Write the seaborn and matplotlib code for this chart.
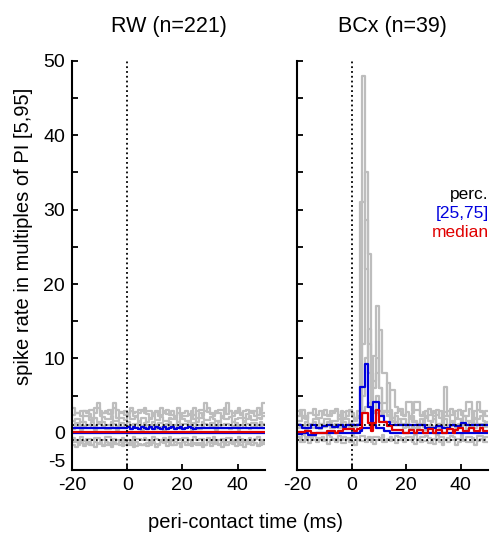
import numpy as np
import pandas as pd
import matplotlib
matplotlib.use('Agg')
import matplotlib.pyplot as plt
import matplotlib.transforms as mtransforms
import seaborn as sns

sns.set_style('ticks')
plt.rcParams['font.family'] = ['Liberation Sans', 'DejaVu Sans']
plt.rcParams['axes.unicode_minus'] = False
for key in ['text.color', 'axes.labelcolor', 'xtick.color', 'ytick.color', 'axes.edgecolor']:
    plt.rcParams[key] = 'black'

# bin edges (1 ms bins, -20 .. 50 ms)
edges = np.arange(-20, 51)

# RW (n=221): single-unit traces (grey)
rw_gray = {
    'u1': [2.4, 2.6, 2.6, 2.9, 2.9, 2.7, 3.1, 3.1, 2.6, 4.0,
           2.9, 2.6, 2.6, 3.1, 2.6, 4.0, 3.1, 2.8, 2.8, 2.4,
           2.6, 3.0, 2.6, 2.8, 3.1, 3.1, 2.6, 2.9, 2.9, 2.4,
           2.8, 2.4, 2.4, 2.9, 3.1, 2.4, 2.4, 2.2, 2.6, 2.4,
           2.2, 2.2, 2.4, 2.9, 2.4, 2.9, 3.1, 3.1, 4.0, 2.8,
           2.6, 2.4, 2.9, 3.1, 3.1, 2.6, 4.0, 2.9, 2.6, 2.9,
           3.1, 2.4, 2.9, 3.1, 2.9, 2.6, 2.9, 2.4, 2.9, 4.0],
    'u2': [1.6, 1.9, 1.9, 1.5, 2.2, 2.2, 1.7, 1.7, 2.0, 1.5,
           1.5, 2.1, 1.8, 1.8, 2.2, 1.6, 1.6, 2.0, 2.0, 1.7,
           2.2, 1.8, 1.8, 2.1, 1.6, 2.0, 2.0, 1.5, 1.9, 2.2,
           1.7, 1.7, 2.1, 1.6, 1.6, 2.0, 1.8, 1.8, 1.5, 2.1,
           1.9, 1.6, 1.6, 2.2, 1.8, 1.5, 2.0, 2.0, 1.7, 1.7,
           2.1, 1.9, 1.6, 1.6, 2.2, 1.8, 1.8, 2.1, 1.5, 1.9,
           2.0, 2.0, 1.6, 1.8, 2.2, 1.7, 1.7, 2.0, 1.9, 2.2],
    'u3': [1.0, 1.3, 1.3, 0.9, 1.4, 1.1, 1.1, 1.5, 0.9, 1.2,
           1.2, 1.4, 1.0, 1.0, 1.5, 1.2, 0.9, 1.3, 1.3, 1.1,
           1.4, 1.0, 1.2, 1.2, 1.5, 0.9, 1.3, 1.1, 1.1, 1.4,
           1.0, 1.3, 1.3, 0.9, 1.2, 1.5, 1.1, 1.1, 1.4, 1.0,
           1.2, 1.2, 1.5, 0.9, 1.3, 1.0, 1.0, 1.4, 1.2, 1.1,
           1.3, 1.3, 0.9, 1.5, 1.1, 1.2, 1.2, 1.0, 1.4, 1.3,
           0.9, 1.1, 1.5, 1.2, 1.0, 1.3, 1.3, 1.1, 1.4, 1.2],
    'u4': [-0.7, -0.9, -0.9, -0.6, -1.1, -0.8, -0.8, -1.0, -0.7, -0.7,
           -1.0, -0.9, -0.6, -0.6, -1.1, -0.8, -1.0, -1.0, -0.7, -0.9,
           -0.9, -1.1, -0.6, -0.8, -0.8, -1.0, -0.7, -0.9, -1.1, -0.6,
           -0.8, -1.0, -1.0, -0.7, -0.9, -0.6, -1.1, -0.8, -0.8, -1.0,
           -0.7, -0.7, -0.9, -1.1, -0.6, -1.0, -0.8, -0.8, -0.9, -0.7,
           -1.1, -0.6, -1.0, -1.0, -0.8, -0.9, -0.7, -0.7, -1.1, -0.9,
           -0.6, -0.8, -1.0, -0.9, -0.7, -1.1, -0.8, -0.6, -1.0, -0.9],
    'u5': [-1.3, -1.3, -1.6, -1.2, -1.5, -1.5, -1.3, -1.7, -1.2, -1.4,
           -1.4, -1.8, -1.3, -1.6, -1.6, -1.2, -1.5, -1.7, -1.7, -1.3,
           -1.4, -1.6, -1.8, -1.8, -1.5, -1.7, -1.7, -1.4, -1.6, -1.3,
           -1.5, -1.5, -1.2, -1.4, -1.3, -1.3, -1.6, -1.2, -1.4, -1.5,
           -1.3, -1.2, -1.5, -1.3, -1.4, -1.7, -1.7, -1.3, -1.6, -1.2,
           -1.4, -1.4, -1.3, -1.5, -1.2, -1.6, -1.3, -1.3, -1.5, -1.2,
           -1.4, -1.6, -1.3, -1.3, -1.5, -1.2, -1.4, -1.6, -1.3, -1.5],
    'u6': [3.3, 2.7, 2.7, 2.2, 3.0, 3.0, 2.5, 2.0, 3.3, 3.3,
           2.2, 2.7, 3.0, 2.5, 2.5, 3.3, 2.0, 2.7, 2.7, 3.0,
           2.5, 3.3, 2.2, 2.2, 2.7, 3.0, 3.3, 2.5, 2.0, 2.7,
           3.0, 2.2, 3.3, 2.7, 2.5, 2.5, 3.0, 2.0, 3.3, 2.2,
           2.7, 3.0, 2.5, 2.5, 3.3, 2.0, 2.7, 2.2, 3.0, 3.3,
           2.5, 2.2, 2.7, 2.7, 2.0, 3.3, 2.5, 3.0, 2.2, 2.7,
           3.3, 2.7, 2.0, 2.5, 3.0, 3.0, 2.2, 3.3, 2.5, 2.7],
    'u7': [0.5, 0.8, 0.8, 0.4, 0.9, 0.6, 0.6, 1.0, 0.4, 0.7,
           0.7, 0.9, 0.5, 0.5, 1.0, 0.7, 0.4, 0.8, 0.8, 0.6,
           0.9, 0.5, 0.7, 0.7, 1.0, 0.4, 0.8, 0.6, 0.6, 0.9,
           0.5, 0.8, 0.8, 0.4, 0.7, 1.0, 0.6, 0.6, 0.9, 0.5,
           0.7, 0.7, 1.0, 0.4, 0.8, 0.5, 0.5, 0.9, 0.7, 0.6,
           0.8, 0.8, 0.4, 1.0, 0.6, 0.7, 0.7, 0.5, 0.9, 0.8,
           0.4, 0.6, 1.0, 0.7, 0.5, 0.8, 0.8, 0.6, 0.9, 0.7],
    'u8': [-1.6, -1.9, -1.4, -1.4, -1.8, -1.3, -1.6, -1.6, -1.9, -1.5,
           -1.3, -1.7, -1.7, -1.4, -1.9, -1.5, -1.5, -1.3, -1.8, -1.6,
           -1.6, -1.4, -1.9, -1.3, -1.7, -1.7, -1.5, -1.8, -1.4, -1.4,
           -1.9, -1.6, -1.3, -1.3, -1.8, -1.5, -1.7, -1.7, -1.4, -1.9,
           -1.3, -1.6, -1.6, -1.8, -1.5, -1.4, -1.4, -1.9, -1.7, -1.3,
           -1.8, -1.5, -1.5, -1.6, -1.9, -1.3, -1.7, -1.4, -1.4, -1.8,
           -1.6, -1.3, -1.9, -1.5, -1.5, -1.7, -1.4, -1.8, -1.6, -1.3],
}
# RW percentiles
rw_p75 = [0.6] * 20 + [0.75, 0.45, 0.75, 0.6, 0.45, 0.75, 0.6, 0.45, 0.75, 0.45,
                       0.75, 0.6, 0.45, 0.75, 0.45, 0.6, 0.75, 0.45, 0.6, 0.75,
                       0.45, 0.6, 0.75, 0.6, 0.45] + [0.6] * 25
rw_med = [0.05] * 70
rw_p25 = [0.0] * 70

# BCx (n=39): single-unit traces (grey)
bcx_gray = {
    'u1': [2.9, 2.9, 2.0, 2.0, 2.6, 2.6, 2.4, 2.4, 2.9, 2.9,
           2.4, 2.4, 2.9, 2.9, 2.9, 2.4, 2.9, 2.0, 2.9, 2.9,
           2.4, 1.8, 2.9, 2.0, 48.0, 22.0, 8.0, 3.0, 3.0, 5.0,
           4.0, 3.0, 3.0, 2.4, 5.8, 5.8, 3.5, 2.9, 2.4, 2.4,
           4.1, 4.1, 2.9, 4.1, 4.1, 2.4, 2.4, 2.9, 2.4, 2.4,
           2.9, 2.4, 2.9, 2.0, 6.1, 2.9, 2.4, 2.4, 2.9, 3.1,
           2.4, 2.9, 4.1, 4.1, 2.4, 2.9, 4.1, 2.9, 2.4, 2.9],
    'u2': [1.6, 1.6, 2.2, 2.2, 1.2, 1.2, 1.8, 1.8, 1.2, 1.2,
           1.8, 1.8, 1.2, 1.6, 1.6, 2.2, 1.2, 1.8, 1.8, 1.2,
           1.6, 1.6, 2.2, 31.0, 31.0, 35.0, 12.0, 6.0, 10.3, 17.1,
           6.0, 3.0, 3.0, 2.2, 1.6, 1.6, 2.2, 1.2, 1.8, 1.8,
           1.2, 2.2, 2.2, 1.6, 1.2, 1.8, 1.8, 2.2, 1.6, 1.6,
           2.2, 1.2, 1.2, 1.8, 2.2, 2.2, 1.6, 1.2, 1.8, 1.8,
           1.2, 2.2, 1.6, 1.6, 2.2, 1.2, 1.8, 2.2, 1.6, 1.2],
    'u3': [1.2, 0.8, 0.8, 1.4, 1.0, 1.0, 1.4, 0.8, 1.2, 1.2,
           0.8, 1.4, 1.0, 1.0, 1.2, 0.8, 1.4, 1.4, 1.0, 1.2,
           1.2, 0.8, 1.2, 1.8, 12.0, 28.6, 24.0, 8.0, 6.0, 8.0,
           13.8, 8.1, 8.1, 3.0, 2.0, 1.4, 1.4, 1.8, 1.2, 1.2,
           0.8, 1.8, 1.4, 1.4, 0.8, 1.2, 1.8, 1.0, 1.0, 1.4,
           1.8, 0.8, 1.2, 1.2, 1.8, 1.0, 1.4, 1.4, 0.8, 1.2,
           1.8, 1.0, 1.0, 1.4, 0.8, 1.8, 1.2, 1.2, 1.0, 1.4],
    'u4': [0.6, 0.9, 0.9, 0.5, 1.0, 0.7, 0.7, 0.9, 0.5, 0.8,
           0.8, 1.0, 0.6, 0.6, 0.9, 0.7, 1.0, 1.0, 0.5, 0.8,
           0.6, 1.0, 1.0, 1.0, 5.0, 10.0, 14.0, 4.0, 7.0, 10.0,
           6.0, 4.0, 4.0, 6.7, 3.0, 2.0, 1.0, 1.0, 1.2, 0.6,
           0.9, 0.5, 1.0, 0.7, 0.7, 1.2, 0.8, 0.4, 0.9, 0.9,
           0.6, 1.1, 0.7, 0.7, 1.0, 0.5, 0.9, 1.2, 0.6, 0.8,
           0.8, 1.1, 0.5, 0.9, 0.7, 0.7, 1.0, 0.6, 1.2, 0.8],
    'u5': [-0.9, -1.2, -1.2, -0.8, -1.4, -1.0, -1.0, -1.3, -0.8, -1.1,
           -1.1, -1.5, -0.9, -0.9, -1.3, -1.0, -1.4, -1.4, -0.8, -1.2,
           -1.2, -1.6, -0.9, -1.1, -1.1, -1.3, -0.8, -1.2, -1.5, -0.9,
           -1.0, -1.3, -1.3, -0.8, -1.1, -0.9, -1.4, -1.0, -1.0, -1.3,
           -0.9, -0.9, -1.2, -1.5, -0.8, -1.3, -1.1, -1.1, -1.4, -0.9,
           -1.5, -0.8, -1.3, -1.6, -1.0, -1.2, -0.9, -0.9, -1.6, -1.2,
           -0.8, -1.1, -1.3, -1.2, -0.9, -1.6, -1.1, -0.8, -1.3, -1.2],
    'u6': [2.2, 3.1, 3.1, 1.8, 2.6, 2.6, 3.2, 2.0, 2.0, 2.8,
           3.1, 2.2, 2.2, 2.6, 3.2, 1.8, 2.8, 2.8, 2.2, 3.1,
           2.6, 2.0, 2.0, 2.8, 3.0, 3.5, 4.0, 3.2, 2.6, 2.6,
           3.0, 2.2, 2.8, 2.8, 3.1, 2.0, 2.6, 3.2, 3.2, 2.2,
           2.8, 2.0, 2.6, 3.1, 3.1, 2.2, 2.8, 2.0, 3.2, 2.6,
           2.6, 3.1, 2.0, 2.8, 2.8, 2.2, 3.2, 2.6, 2.0, 3.1,
           2.8, 2.2, 2.2, 3.2, 2.6, 2.0, 3.1, 2.8, 2.6, 2.2],
    'u7': [-0.5, -0.8, -0.3, -0.6, -0.6, -1.0, -0.4, -0.7, -0.7, -0.5,
           -0.9, -0.3, -0.6, -0.8, -0.8, -0.4, -1.0, -0.5, -0.7, -0.7,
           -0.3, -0.6, -0.9, -0.4, -0.4, -0.8, -0.5, -1.0, -0.6, -0.6,
           -0.7, -0.3, -0.9, -0.9, -0.5, -0.8, -0.4, -0.6, -1.0, -0.7,
           -0.5, -0.5, -0.8, -0.3, -0.9, -0.6, -0.6, -0.4, -0.7, -1.0,
           -0.8, -0.3, -0.5, -0.5, -0.9, -0.7, -0.4, -0.6, -0.8, -0.8,
           -0.3, -1.0, -0.6, -0.5, -0.7, -0.9, -0.4, -0.4, -0.8, -0.6],
}
# BCx percentiles
bcx_p75 = [1.0, 1.0, 0.7, 0.7, 0.7, 1.0, 1.0, 0.6, 0.6, 0.9,
           0.9, 1.0, 1.0, 0.8, 0.8, 1.0, 1.0, 0.8, 1.0, 1.0,
           1.0, 1.0, 1.0, 6.2, 6.2, 9.3, 3.5, 1.5, 4.1, 4.1,
           2.2, 2.2, 1.5, 1.5, 1.1, 1.1, 1.1, 1.1, 1.1, 1.1,
           1.1, 1.1, 1.1, 1.1, 1.1, 1.1, 1.1, 0.6, 0.6, 0.6,
           0.6, 0.9, 0.9, 0.6, 0.6, 0.6, 1.1, 1.1, 0.9, 0.9,
           1.3, 1.3, 1.1, 1.1, 1.1, 1.1, 1.1, 1.1, 1.1, 1.1]
bcx_med = [0.1, 0.1, 0.1, 0.3, 0.3, 0.0, 0.0, 0.0, 0.0, 0.0,
           0.0, 0.3, 0.3, 0.3, 0.0, 0.3, 0.3, 0.5, 0.5, 0.5,
           0.5, 0.2, 0.5, 0.7, 2.7, 2.7, 1.3, 0.2, 1.3, 3.1,
           1.4, 1.4, 1.4, 0.85, 0.85, 0.4, 0.4, 0.4, 0.4, 0.0,
           0.0, 0.4, 0.4, 0.0, 0.4, 0.4, 0.0, 0.0, 0.5, 0.5,
           0.0, 0.4, 0.4, 0.0, 0.0, 0.5, 0.5, 0.0, 0.4, 0.6,
           0.6, 0.3, 0.3, 0.6, 0.6, 0.3, 0.3, 0.6, 0.3, 0.3]
bcx_p25 = [-0.2, -0.2, 0.0, 0.0, -0.3, -0.3, -0.3, 0.0, 0.0, 0.0,
           0.0, 0.0, 0.0, 0.0, 0.0, 0.0, 0.0, 0.0, 0.0, 0.0,
           0.0, 0.0, 0.0, 0.3, 0.6, 0.6, 0.6, 1.1, 1.1, 0.6,
           0.6, 0.6, 0.3, 0.3, 0.0, 0.0, 0.0, 0.0, 0.0, 0.0,
           0.0, 0.0, 0.0, 0.0, 0.0, 0.0, 0.0, 0.0, 0.0, 0.0,
           0.0, 0.0, 0.0, 0.0, 0.0, 0.0, 0.0, 0.0, 0.0, 0.0,
           0.0, 0.0, 0.0, 0.0, 0.0, 0.0, 0.0, 0.0, 0.0, 0.0]

pi_band = [-1.0, 1.05]
titles = ['RW (n=221)', 'BCx (n=39)']


def steps(vals):
    return np.append(vals, vals[-1])


def long_form(traces):
    rows = []
    for unit, vals in traces.items():
        rows.append(pd.DataFrame({'t': edges, 'v': steps(vals), 'unit': unit}))
    return pd.concat(rows, ignore_index=True)


fig = plt.figure(figsize=(4.9, 5.39), dpi=100)
axes = [fig.add_axes([0.147, 0.128, 0.394, 0.759]),
        fig.add_axes([0.606, 0.128, 0.390, 0.759])]

panels = [(rw_gray, rw_p25, rw_med, rw_p75), (bcx_gray, bcx_p25, bcx_med, bcx_p75)]
for ax, (gray, p25, med, p75), title in zip(axes, panels, titles):
    sns.lineplot(data=long_form(gray), x='t', y='v', units='unit', estimator=None,
                 color='#bdbdbd', lw=1.6, drawstyle='steps-post', ax=ax, legend=False)
    sns.lineplot(x=edges, y=steps(p25), color='#0000dd', lw=1.6, drawstyle='steps-post', ax=ax)
    sns.lineplot(x=edges, y=steps(p75), color='#0000dd', lw=1.6, drawstyle='steps-post', ax=ax)
    sns.lineplot(x=edges, y=steps(med), color='#e00000', lw=1.6, drawstyle='steps-post', ax=ax)
    for yv in pi_band:
        ax.axhline(yv, color='black', ls=':', lw=1.3)
    ax.axvline(0, color='black', ls=':', lw=1.3)

    ax.set_xlim(-20, 50)
    ax.set_ylim(-5, 50)
    ax.set_xticks([-20, 0, 20, 40])
    ax.set_yticks(np.arange(-5, 51, 5))
    ax.set_xlabel('')
    ax.set_ylabel('')
    ax.set_title(title, fontsize=15.5, pad=21)
    ax.tick_params(direction='in', length=4, width=1.3, labelsize=14, pad=5)
    sns.despine(ax=ax)
    for s in ['left', 'bottom']:
        ax.spines[s].set_linewidth(1.5)

axes[0].set_yticklabels(['-5', '0', '', '10', '', '20', '', '30', '', '40', '', '50'])
axes[1].set_yticklabels([])
# lift the "-5" label a little, as in the original
lab = axes[0].get_yticklabels()[0]
lab.set_transform(lab.get_transform() +
                  mtransforms.ScaledTranslation(0, 7 / 72, fig.dpi_scale_trans))

axes[1].text(50.3, 32.0, 'perc.', color='black', ha='right', va='center', fontsize=12.5)
axes[1].text(50.3, 29.5, '[25,75]', color='#0000dd', ha='right', va='center', fontsize=12.5)
axes[1].text(50.3, 26.9, 'median', color='#e00000', ha='right', va='center', fontsize=12.5)

fig.text(0.5, 1 - 523 / 539, 'peri-contact time (ms)', ha='center', va='center', fontsize=14.5)
fig.text(24 / 490, 1 - 236 / 539, 'spike rate in multiples of PI [5,95]',
         rotation=90, ha='center', va='center', fontsize=14.5)

fig.savefig('out.png', dpi=100)
